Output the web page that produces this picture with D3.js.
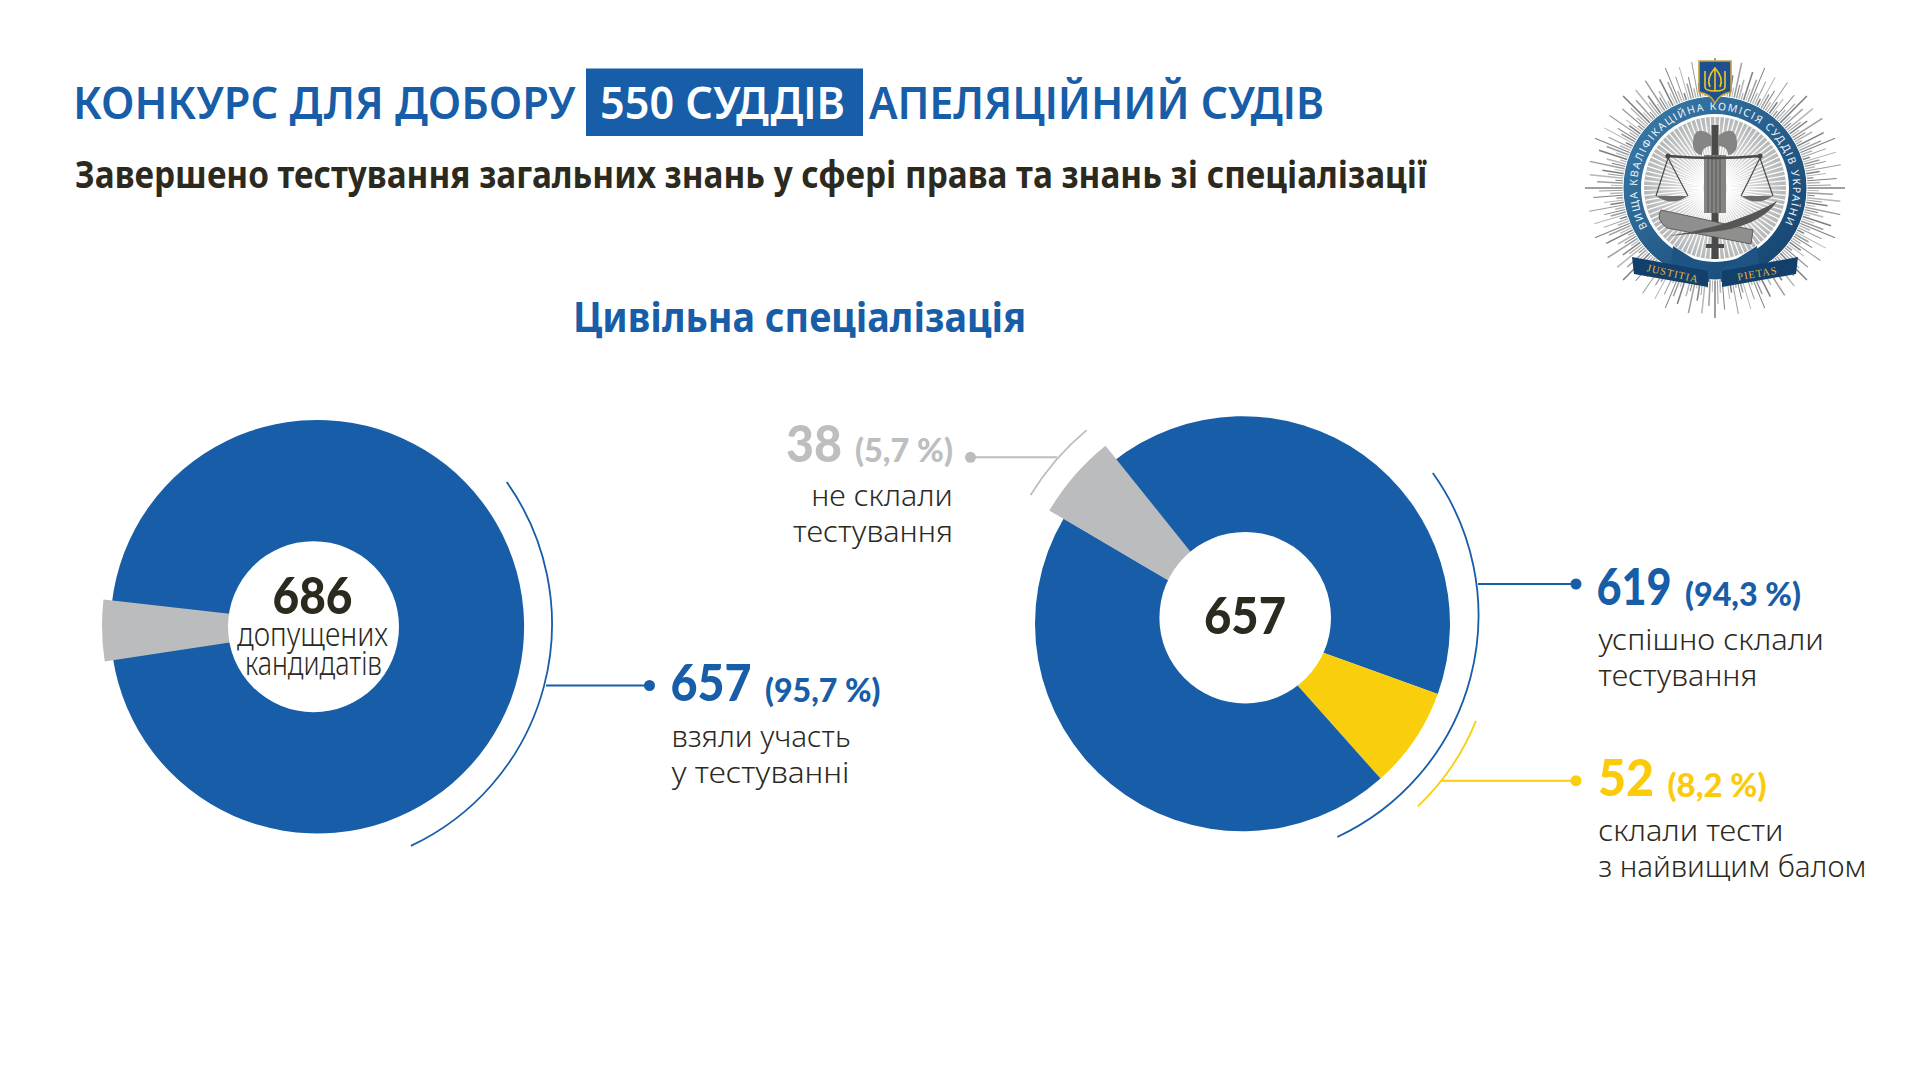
<!DOCTYPE html>
<html lang="uk">
<head>
<meta charset="utf-8">
<title>Цивільна спеціалізація</title>
<script src="https://cdn.jsdelivr.net/npm/d3@7"></script>
<style>
  html, body { margin: 0; padding: 0; background: #fff; }
  svg { display: block; }
</style>
</head>
<body>
<svg id="chart" width="1920" height="1080"></svg>
<script>
// chart values
const leftValues = [657, 29];
const rightValues = [271, 52, 296, 38]; // blue, yellow, blue, grey

const titleStart = "КОНКУРС ДЛЯ ДОБОРУ";
const titleBox = "550 СУДДІВ";
const titleEnd = "АПЕЛЯЦІЙНИЙ СУДІВ";
const subtitle = "Завершено тестування загальних знань у сфері права та знань зі спеціалізації";
const sectionTitle = "Цивільна спеціалізація";
const leftCenter = ["686", "допущених", "кандидатів"];
const rightCenter = ["657"];

const calloutNumbers = ["657", "38", "619", "52"];
const calloutPercents = ["(95,7 %)", "(5,7 %)", "(94,3 %)", "(8,2 %)"];
const calloutNotes = [
  ["взяли участь", "у тестуванні"],
  ["не склали", "тестування"],
  ["успішно склали", "тестування"],
  ["склали тести", "з найвищим балом"]
];
const emblemRing = "ВИЩА КВАЛІФІКАЦІЙНА КОМІСІЯ СУДДІВ УКРАЇНИ";
const emblemRibbon = ["JUSTITIA", "PIETAS"];

const BLUE = "#175da8", GREY = "#bbbcbe", YELLOW = "#f9ce0c", DARK = "#2c2a1e";
const LABEL_GREY = "#bcbec0", LABEL_YELLOW = "#fbcb0a";
const TEXT_FONT = "'Noto Sans', 'Open Sans', sans-serif";
const NUM_FONT = "Lato, 'Noto Sans', sans-serif";

const svg = d3.select("#chart");
const rad = d => d * Math.PI / 180;

// text fitted to the width it takes in the picture
function label(g, str, x, y, width, size, opts) {
  const o = opts || {};
  return g.append("text")
    .attr("x", x).attr("y", y)
    .attr("font-family", o.font || TEXT_FONT)
    .attr("font-size", size)
    .attr("font-weight", o.weight || 400)
    .attr("fill", o.fill || DARK)
    .attr("textLength", width)
    .attr("lengthAdjust", "spacingAndGlyphs")
    .text(str);
}

// ---- headings
label(svg, titleStart, 73, 119, 502.5, 45, { weight: 600, fill: BLUE });
svg.append("rect").attr("x", 586).attr("y", 68.5).attr("width", 277).attr("height", 67.5).attr("fill", BLUE);
label(svg, titleBox, 600, 119, 245, 45, { weight: 600, fill: "#fff" });
label(svg, titleEnd, 869, 119, 455, 45, { weight: 600, fill: BLUE });
label(svg, subtitle, 75, 188, 1352, 37, { weight: 700 });
label(svg, sectionTitle, 573, 332, 453, 41, { weight: 700, fill: BLUE });

// ---- donuts
const arcPath = d3.arc().innerRadius(0);
const ringArc = d3.arc();

function donut(values, startDeg, colors, center, radius, overrides, hole) {
  const pie = d3.pie().sort(null).startAngle(rad(startDeg)).endAngle(rad(startDeg + 360));
  const slices = pie(values);
  const g = svg.append("g");
  slices.forEach((s, i) => {
    const over = overrides[i];
    const c = over ? over.center : center;
    g.append("path")
      .attr("transform", `translate(${c[0]},${c[1]})`)
      .attr("d", arcPath.outerRadius(over ? over.radius : radius)(s))
      .attr("fill", colors[i]);
  });
  g.append("circle").attr("cx", hole[0]).attr("cy", hole[1]).attr("r", hole[2]).attr("fill", "#fff");
}

donut(leftValues, 276.5, [BLUE, GREY], [317.3, 626.7], 206.8,
  { 1: { center: [337, 626], radius: 235 } }, [313.5, 626.7, 85.5]);
donut(rightValues, 321.3, [BLUE, YELLOW, BLUE, GREY], [1242.5, 623.7], 207.5,
  { 3: { center: [1254, 631], radius: 237.5 } }, [1245.2, 617.7, 85.8]);

// ---- brackets and leaders
function bracket(cx, cy, r, from, to, color) {
  svg.append("path")
    .attr("transform", `translate(${cx},${cy})`)
    .attr("d", ringArc.innerRadius(r).outerRadius(r).startAngle(rad(from)).endAngle(rad(to))())
    .attr("fill", "none").attr("stroke", color).attr("stroke-width", 1.8);
}
function leader(x1, x2, y, color) {
  svg.append("line").attr("x1", x1).attr("x2", x2).attr("y1", y).attr("y2", y)
    .attr("stroke", color).attr("stroke-width", 2);
  svg.append("circle").attr("cx", x2).attr("cy", y).attr("r", 5.5).attr("fill", color);
}
bracket(307, 624, 245, 54.6, 154.9, BLUE);
leader(546, 649.5, 685.5, BLUE);
bracket(1234, 615.4, 244.5, 54.4, 155, BLUE);
leader(1478, 1576, 584, BLUE);
bracket(1250, 630, 243.5, 111.9, 136.4, YELLOW);
leader(1442, 1576, 780.7, YELLOW);
bracket(1254, 631, 261.5, 301.3, 320.2, GREY);
leader(1057, 970.5, 457.3, GREY);

// ---- centre texts
label(svg, leftCenter[0], 272.5, 614, 80, 52, { font: NUM_FONT, weight: 900 });
label(svg, leftCenter[1], 237, 646, 151, 33, { weight: 300 });
label(svg, leftCenter[2], 245, 675, 137, 33, { weight: 300 });
label(svg, rightCenter[0], 1204, 633.5, 82, 52, { font: NUM_FONT, weight: 900 });

// ---- callouts
function callout(i, color, numX, numW, pctX, pctW, baseY, noteX, noteW, noteY) {
  label(svg, calloutNumbers[i], numX, baseY, numW, 52, { font: NUM_FONT, weight: 900, fill: color });
  label(svg, calloutPercents[i], pctX, baseY + 0.7, pctW, 32, { font: NUM_FONT, weight: 900, fill: color });
  calloutNotes[i].forEach((line, k) => {
    label(svg, line, noteX[k], noteY[k], noteW[k], 30, { weight: 300 });
  });
}
callout(0, BLUE, 670.5, 81, 765, 115.5, 701, [671.5, 671.5], [179, 178], [746.7, 783.3]);
callout(1, LABEL_GREY, 786, 56, 855, 98, 461.7, [811.3, 793], [141.5, 160], [506, 542.3]);
callout(2, BLUE, 1596.5, 75, 1685, 116, 605, [1598.3, 1598.3], [225.5, 159], [650, 686]);
callout(3, LABEL_YELLOW, 1598, 56, 1667.5, 99, 796, [1598.3, 1598.3], [185, 268], [841, 876.7]);

// ---- emblem, drawn in px around its own centre
const defs = svg.append("defs");
const ringGrad = defs.append("linearGradient").attr("id", "ringGrad")
  .attr("x1", 0).attr("y1", 0).attr("x2", 1).attr("y2", 1);
ringGrad.append("stop").attr("offset", 0).attr("stop-color", "#3b7fae");
ringGrad.append("stop").attr("offset", 1).attr("stop-color", "#123f6b");
const discGrad = defs.append("radialGradient").attr("id", "discGrad");
discGrad.append("stop").attr("offset", 0).attr("stop-color", "#f4f4f4");
discGrad.append("stop").attr("offset", 1).attr("stop-color", "#b4b6b7");
defs.append("path").attr("id", "ringText")
  .attr("d", ringArc.innerRadius(78).outerRadius(78).startAngle(rad(-120)).endAngle(rad(118))().split("L")[0]);

const em = svg.append("g").attr("transform", "translate(1715,188)");
const rayLengths = [130, 104, 118, 100, 126, 108, 114, 102, 128, 106, 112, 99, 122, 105, 116];
d3.range(0, 360, 1.5).forEach((a, i) => {
  const len = rayLengths[i % rayLengths.length];
  em.append("line")
    .attr("x1", 0).attr("y1", -90).attr("x2", 0).attr("y2", -len)
    .attr("transform", `rotate(${a})`)
    .attr("stroke", ["#7d7f81", "#b5b7b8", "#9b9d9f"][i % 3])
    .attr("stroke-width", i % 2 ? 1 : 1.5);
});
em.append("circle").attr("r", 92).attr("fill", "url(#ringGrad)").attr("stroke", "#fff").attr("stroke-width", 1);
em.append("circle").attr("r", 74).attr("fill", "#fff");
em.append("circle").attr("r", 71).attr("fill", "url(#discGrad)");
d3.range(0, 360, 4).forEach(a => {
  em.append("line").attr("y1", -12).attr("y2", -71).attr("transform", `rotate(${a})`)
    .attr("stroke", "#fff").attr("stroke-width", 1.2);
});
em.append("text").attr("font-family", TEXT_FONT).attr("font-size", 10.5).attr("fill", "#eef3f7")
  .append("textPath").attr("href", "#ringText").attr("textLength", 322).attr("lengthAdjust", "spacing")
  .text(emblemRing);

// axe, rod and bundle
const METAL = "#6d6d6b", METAL_DARK = "#4a4a48";
em.append("rect").attr("x", -3.5).attr("y", -63).attr("width", 7).attr("height", 134).attr("fill", METAL_DARK);
em.append("rect").attr("x", -9).attr("y", 56).attr("width", 18).attr("height", 4).attr("fill", METAL_DARK);
[-1, 1].forEach(s => {
  em.append("path")
    .attr("d", `M${s * 3},-52C${s * 10},-58 ${s * 21},-62 ${s * 22},-46C${s * 23},-38 ${s * 18},-33 ${s * 13},-33C${s * 13},-40 ${s * 8},-42 ${s * 3},-42Z`)
    .attr("fill", "#858583");
});
em.append("rect").attr("x", -11).attr("y", -33).attr("width", 22).attr("height", 58).attr("fill", "#858583");
d3.range(-7, 9, 4).forEach(x => {
  em.append("line").attr("x1", x).attr("x2", x).attr("y1", -33).attr("y2", 25).attr("stroke", METAL_DARK).attr("stroke-width", 0.8);
});
// scales
em.append("path").attr("d", "M-47,-32Q0,-28 45,-32").attr("fill", "none").attr("stroke", METAL_DARK).attr("stroke-width", 2.4);
[[-47, -59, -27], [45, 26, 58]].forEach(p => {
  em.append("circle").attr("cx", p[0]).attr("cy", -32).attr("r", 2.6).attr("fill", METAL_DARK);
  em.append("path").attr("d", `M${p[1]},8L${p[0]},-30L${p[2]},8`).attr("fill", "none").attr("stroke", METAL_DARK).attr("stroke-width", 1.2);
  em.append("path").attr("d", `M${p[1]},8H${p[2]}Q${(p[1] + p[2]) / 2},19 ${p[1]},8Z`).attr("fill", METAL);
});
// scroll and feather
em.append("path").attr("d", "M-54,22L38,42L36,56L-48,40Q-60,31 -54,22Z").attr("fill", "#8f8f8d").attr("stroke", METAL_DARK).attr("stroke-width", 0.8);
em.append("path").attr("d", "M-47,48C-10,42 30,32 62,13C52,30 25,42 -5,44Z").attr("fill", "#565654");

// ribbon
[[-1, emblemRibbon[0], 13], [1, emblemRibbon[1], -10]].forEach(p => {
  const s = p[0];
  em.append("path")
    .attr("d", `M${s * 42},58L${s * 4},82L${s * 6},94L${s * 44},76Z`)
    .attr("fill", "#1d5484");
  em.append("path")
    .attr("d", `M${s * 83},69L${s * 7},83L${s * 7},99L${s * 81},86Z`)
    .attr("fill", "#123f6b");
  em.append("text")
    .attr("transform", `translate(${s * 43},89) rotate(${p[2]})`)
    .attr("text-anchor", "middle")
    .attr("font-family", "'Liberation Serif', serif").attr("font-size", 10.5).attr("letter-spacing", 1)
    .attr("fill", "#e4b93c").text(p[1]);
});

// shield with trident
const shield = em.append("g").attr("transform", "translate(0,-106)");
shield.append("path").attr("d", "M-16,-21H16V10Q4,12 0,21Q-4,12 -16,10Z").attr("fill", "#1f4f8f").attr("stroke", "#c4a63a").attr("stroke-width", 1.6);
shield.append("path")
  .attr("d", "M0,-14V9M-10,-11V5Q-10,9 0,9Q10,9 10,5V-11M-5,5Q-9,-4 0,-14Q9,-4 5,5")
  .attr("fill", "none").attr("stroke", "#f2c61f").attr("stroke-width", 1.6);
</script>
</body>
</html>
